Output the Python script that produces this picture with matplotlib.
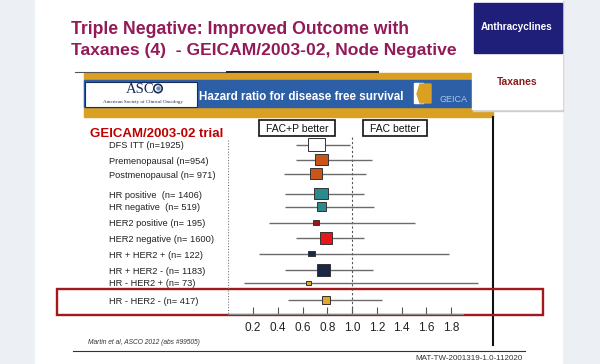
import matplotlib
matplotlib.use("Agg")
import matplotlib.pyplot as plt
from matplotlib.patches import Rectangle, Polygon, Circle

# ---- data ----
labels = [
    "DFS ITT (n=1925)",
    "Premenopausal (n=954)",
    "Postmenopausal (n= 971)",
    "HR positive  (n= 1406)",
    "HR negative  (n= 519)",
    "HER2 positive (n= 195)",
    "HER2 negative (n= 1600)",
    "HR + HER2 + (n= 122)",
    "HR + HER2 - (n= 1183)",
    "HR - HER2 + (n= 73)",
    "HR - HER2 - (n= 417)",
]
hr = [0.71, 0.75, 0.71, 0.75, 0.75, 0.71, 0.79, 0.67, 0.77, 0.65, 0.79]
ci_lo = [0.55, 0.55, 0.45, 0.46, 0.46, 0.33, 0.55, 0.25, 0.46, 0.13, 0.48]
ci_hi = [0.98, 1.16, 1.11, 1.10, 1.18, 1.51, 1.10, 1.78, 1.17, 2.02, 1.24]
xticks = [0.2, 0.4, 0.6, 0.8, 1.0, 1.2, 1.4, 1.6, 1.8]

# ---- layout / style ----
row_y = [145, 160, 174, 194, 207, 223, 238, 254, 270, 283, 300]  # pixel rows
box_wh = [(17, 13), (13, 11), (12, 11), (14, 11), (9, 9), (6, 5),
          (12, 12), (7, 5), (13, 12), (4.5, 4.5), (8.5, 8.5)]
box_col = ["#ffffff", "#c8561a", "#c8561a", "#2a8a8c", "#2a8a8c", "#a51212",
           "#e8161c", "#1b2845", "#1b2845", "#e0a82a", "#e0a82a"]
px_per_unit = 123.75
x_zero = 228.25
x_right = 493
SANS = "Liberation Sans"

fig = plt.figure(figsize=(6, 3.64), dpi=100, facecolor="#eceff3")
bg = fig.add_axes([0, 0, 1, 1])
bg.set_xlim(0, 600)
bg.set_ylim(364, 0)
bg.axis("off")

# slide
bg.add_patch(Rectangle((35, 0), 527, 364, color="white", zorder=0))

# title
title_col = "#931a58"
bg.text(71, 30, "Triple Negative: Improved Outcome with", color=title_col,
        fontsize=12.7, fontweight="bold", family=SANS, va="center")
bg.text(71, 51, "Taxanes (4)  - GEICAM/2003-02, Node Negative", color=title_col,
        fontsize=12.6, fontweight="bold", family=SANS, va="center")

# banner
bg.plot([75, 227], [72, 72], color="#555555", lw=0.8)
bg.plot([227, 378], [72, 72], color="#222222", lw=1.4)
bg.add_patch(Rectangle((84, 72.5), 409, 44.5, color="#d9a021", zorder=1))
bg.add_patch(Rectangle((84, 80), 409, 27, color="#2d5fa6", zorder=2))
bg.add_patch(Rectangle((85, 82), 112, 25, facecolor="white", edgecolor="#1a2a5a",
                       lw=0.8, zorder=3))
bg.text(140, 89.5, "ASC", family="Liberation Serif", fontsize=10.5, color="#1a2a5a",
        ha="center", va="center", zorder=4)
bg.add_patch(Circle((158, 88.5), 4.2, facecolor="white", edgecolor="#1a2a5a",
                    lw=1.2, zorder=4))
bg.add_patch(Circle((158.5, 88.5), 2.2, facecolor="#6a8ab0", edgecolor="none",
                    zorder=5))
bg.text(143, 101.5, "American Society of Clinical Oncology", family="Liberation Serif",
        fontsize=3.6, color="#1a2a5a", ha="center", va="center", zorder=4)
bg.text(199, 97, "Hazard ratio for disease free survival", color="white",
        fontsize=8.4, fontweight="bold", family=SANS, va="center", zorder=4)
bg.add_patch(Rectangle((414, 83), 9, 20, color="white", zorder=3))
bg.add_patch(Polygon([[420, 84], [431, 84], [431, 103], [420, 103], [417, 94]],
                     color="#d9a021", zorder=4))
bg.text(439, 100, "GEICA", color="#a9c8ea", fontsize=6.5, family=SANS,
        va="center", zorder=4)

# side menu boxes
bg.add_patch(Rectangle((473, 1), 90, 110, color="#cfcfcf", zorder=5))
bg.add_patch(Rectangle((472, 0), 90, 109, color="white", zorder=6))
bg.add_patch(Rectangle((474, 3), 88, 50, color="#1f1f7a", zorder=7))
bg.text(517, 27, "Anthracyclines", color="white", fontsize=7.2, fontweight="bold",
        family=SANS, ha="center", va="center", zorder=8)
bg.text(517, 82, "Taxanes", color="#8b1c1c", fontsize=7.4, fontweight="bold",
        family=SANS, ha="center", va="center", zorder=8)

# right border of the figure panel
bg.plot([493, 493], [117, 345], color="#111111", lw=1.5)

# header boxes
for x0, x1, txt in [(259, 335, "FAC+P better"), (363, 427, "FAC better")]:
    bg.add_patch(Rectangle((x0, 120), x1 - x0, 16, facecolor="white",
                           edgecolor="#111111", lw=1.2, zorder=3))
    bg.text((x0 + x1) / 2, 128.5, txt, fontsize=7.5, color="#111111",
            family=SANS, ha="center", va="center", zorder=4)

bg.text(90, 134, "GEICAM/2003-02 trial", color="#c00000", fontsize=9.5,
        fontweight="bold", family=SANS, va="center")

for lab, y in zip(labels, row_y):
    bg.text(109, y + 1, lab, fontsize=6.7, color="#222222", family=SANS,
            va="center")

# highlight box
bg.add_patch(Rectangle((57, 289), 486, 26, fill=False, edgecolor="#a3191b", lw=1.7,
                       zorder=5))

# footer
bg.text(88, 343, "Martin et al, ASCO 2012 (abs #99505)", fontsize=4.8,
        style="italic", family=SANS, color="#333333", va="center")
bg.plot([73, 525], [351, 351], color="#333333", lw=0.8)
bg.text(523, 358, "MAT-TW-2001319-1.0-112020", fontsize=5.8, color="#333333",
        family=SANS, ha="right", va="center")

# ---- forest plot ----
ax = fig.add_axes([x_zero / 600, (364 - 314) / 364,
                   (x_right - x_zero) / 600, (314 - 125) / 364])
ax.patch.set_alpha(0)
ax.set_xlim(0, (x_right - x_zero) / px_per_unit)
ax.set_ylim(314, 125)

ax.vlines(1.0, 137, 314, colors="#555555", lw=0.8, linestyles=(0, (2, 2)))
ax.vlines(0.0, 140, 314, colors="#777777", lw=0.8, linestyles=(0, (1, 1.5)))

for i in range(len(hr)):
    ax.hlines(row_y[i], ci_lo[i], ci_hi[i], colors="#6b6b6b", lw=1.0, zorder=2)
    w = box_wh[i][0] / px_per_unit
    h = box_wh[i][1]
    ax.add_patch(Rectangle((hr[i] - w / 2, row_y[i] - h / 2), w, h,
                           facecolor=box_col[i], edgecolor="#333333", lw=0.7,
                           zorder=3))

for s in ["top", "left", "right"]:
    ax.spines[s].set_visible(False)
ax.spines["bottom"].set_bounds(0, 1.9)
ax.spines["bottom"].set_color("#888888")
ax.set_yticks([])
ax.set_xticks(xticks)
ax.set_xticklabels(["%.1f" % t for t in xticks], family=SANS)
ax.tick_params(axis="x", direction="in", length=5, color="#555555", pad=6,
               labelsize=8.5, labelcolor="#222222")

fig.savefig("out.png", dpi=100, facecolor=fig.get_facecolor())
